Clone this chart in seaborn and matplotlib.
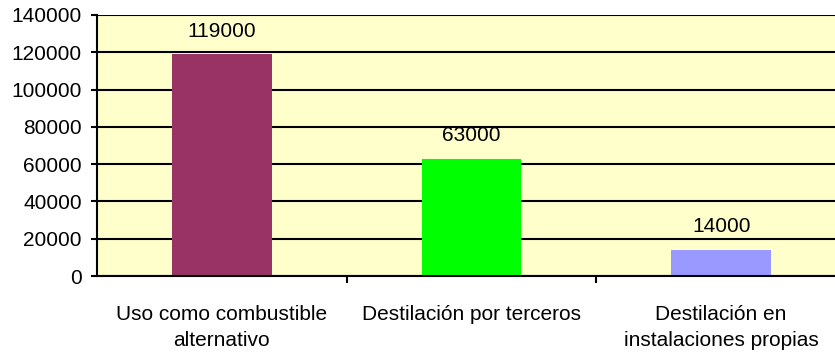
import matplotlib
matplotlib.use("Agg")
import matplotlib.pyplot as plt
import seaborn as sns
import pandas as pd
import numpy as np

categories = ["Uso como combustible\nalternativo",
              "Destilación por terceros",
              "Destilación en\ninstalaciones propias"]
values = [119000, 63000, 14000]
colors = ["#993366", "#00FF00", "#9999FF"]
yticks = [0, 20000, 40000, 60000, 80000, 100000, 120000, 140000]

sns.set_style("white")
plt.rcParams['font.family'] = ['Liberation Sans', 'DejaVu Sans']
plt.rcParams['text.color'] = 'black'
plt.rcParams['xtick.color'] = 'black'
plt.rcParams['ytick.color'] = 'black'

df = pd.DataFrame({"cat": categories, "val": values})

fig = plt.figure(figsize=(8.35, 3.58), dpi=100)
ax = fig.add_axes([97/835, 1-276/358, (846-97)/835, (276-15)/358])
ax.set_facecolor("#FFFFCC")

sns.barplot(data=df, x="cat", y="val", hue="cat", palette=colors,
            legend=False, width=0.4, ax=ax, saturation=1, linewidth=0,
            edgecolor="none")

ax.set_ylim(0, 140000)
ax.set_xlim(-0.5, 2.5)
ax.set_yticks(yticks)
ax.set_yticklabels([str(t) for t in yticks])
ax.yaxis.grid(True, color="black", linewidth=1.5)
ax.set_axisbelow(True)
ax.set_xlabel("")
ax.set_ylabel("")

for s in ["top", "right"]:
    ax.spines[s].set_visible(False)
for s in ["left", "bottom"]:
    ax.spines[s].set_color("black")
    ax.spines[s].set_linewidth(1.5)

ax.tick_params(axis="y", direction="out", length=4.5, width=1.5, color="black",
               pad=6.5, labelsize=15, left=True, labelcolor="black")
ax.tick_params(axis="x", which="major", length=0, pad=21, labelsize=15,
               labelcolor="black")
ax.set_xticks([0.5, 1.5], minor=True)
ax.tick_params(axis="x", which="minor", direction="out", length=5, width=1.5,
               color="black", bottom=True)
for lbl in ax.get_xticklabels():
    lbl.set_linespacing(1.46)

for i, v in enumerate(values):
    ax.annotate(str(v), (i, v), xytext=(0, 16.5), textcoords="offset points",
                ha="center", va="center", fontsize=15, color="black")

fig.savefig("out.png", dpi=100)
